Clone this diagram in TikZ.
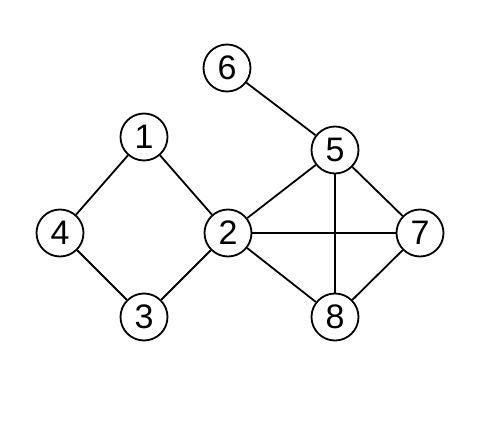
\documentclass[tikz,border=0pt]{standalone}
\usepackage{fontspec}
\setmainfont{Liberation Sans}
\begin{document}
\begin{tikzpicture}[x=1pt,y=-1pt,
  vtx/.style={circle,draw,line width=1.8pt,minimum size=47pt,inner sep=0pt,font=\fontsize{34}{36}\selectfont},
  edge/.style={line width=1.8pt}]
\useasboundingbox (0,0) rectangle (491,442);
\node[vtx] (n1) at (144,137) {1};
\node[vtx] (n2) at (228,233) {2};
\node[vtx] (n3) at (144,317) {3};
\node[vtx] (n4) at (60,233) {4};
\node[vtx] (n5) at (335,150) {5};
\node[vtx] (n6) at (227,68) {6};
\node[vtx] (n7) at (420,233) {7};
\node[vtx] (n8) at (335,317) {8};
\draw[edge] (n1) -- (n4);
\draw[edge] (n1) -- (n2);
\draw[edge] (n4) -- (n3);
\draw[edge] (n3) -- (n2);
\draw[edge] (n6) -- (n5);
\draw[edge] (n2) -- (n5);
\draw[edge] (n2) -- (n7);
\draw[edge] (n2) -- (n8);
\draw[edge] (n5) -- (n7);
\draw[edge] (n5) -- (n8);
\draw[edge] (n7) -- (n8);
\end{tikzpicture}
\end{document}
